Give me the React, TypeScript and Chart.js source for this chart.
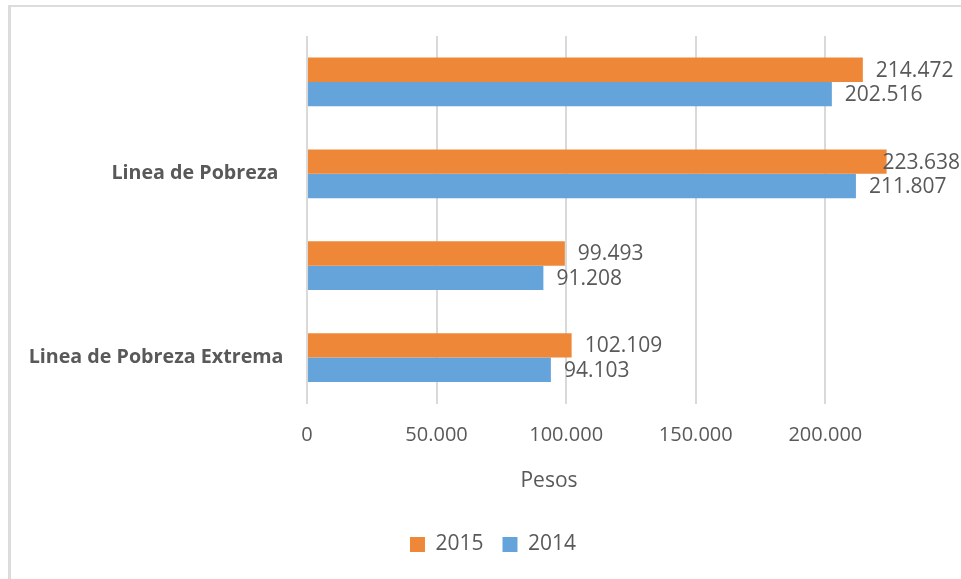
import React, { useEffect, useRef } from "react";
import { Chart, registerables } from "chart.js";

Chart.register(...registerables);

const categories = ["", "Linea de Pobreza ", "", "Linea de Pobreza Extrema"];
const series2015 = [214472, 223638, 99493, 102109];
const series2014 = [202516, 211807, 91208, 94103];
const seriesNames = ["2015", "2014"];
const xTickValues = [0, 50000, 100000, 150000, 200000];
const xAxisMax = 240000;
const xAxisTitle = "Pesos";

const ORANGE = "#EE8838";
const BLUE = "#64A4DA";
const TEXT = "#595959";
const GRID = "#d9d9d9";
const FONT = "'Open Sans', sans-serif";

const fmt = (v: number) => String(Math.round(v)).replace(/\B(?=(\d{3})+(?!\d))/g, ".");

const dataLabelPlugin = {
  id: "dataLabels",
  afterDatasetsDraw(chart: any) {
    const ctx = chart.ctx;
    ctx.save();
    ctx.font = `21px ${FONT}`;
    ctx.fillStyle = TEXT;
    ctx.textBaseline = "middle";
    ctx.textAlign = "left";
    chart.data.datasets.forEach((ds: any, i: number) => {
      const meta = chart.getDatasetMeta(i);
      meta.data.forEach((el: any, j: number) => {
        const txt = fmt(ds.data[j]);
        const w = ctx.measureText(txt).width;
        const x = Math.min(el.x + 13, chart.width - w - 3);
        ctx.fillText(txt, x, el.y + 1);
      });
    });
    ctx.restore();
  },
};

const axisTitlePlugin = {
  id: "axisTitle",
  afterDraw(chart: any) {
    const ctx = chart.ctx;
    const a = chart.chartArea;
    ctx.save();
    ctx.font = `21px ${FONT}`;
    ctx.fillStyle = TEXT;
    ctx.textAlign = "center";
    ctx.textBaseline = "middle";
    ctx.fillText(xAxisTitle, a.left + 242, a.bottom + 78);
    ctx.restore();
  },
};

// shift the bottom legend a little to the right, as in the original
const legendShiftPlugin = {
  id: "legendShift",
  afterLayout(chart: any) {
    const lg = chart.legend;
    if (lg) {
      lg.left += 23;
      lg.right += 23;
    }
  },
};

export default function App() {
  const ref = useRef<HTMLCanvasElement | null>(null);
  useEffect(() => {
    if (!ref.current) return;
    const chart = new Chart(ref.current, {
      type: "bar",
      data: {
        labels: categories,
        datasets: [
          { label: seriesNames[0], data: series2015, backgroundColor: ORANGE, borderWidth: 0 },
          { label: seriesNames[1], data: series2014, backgroundColor: BLUE, borderWidth: 0 },
        ],
      },
      options: {
        indexAxis: "y",
        responsive: false,
        animation: false,
        layout: { padding: { left: 0, right: 34, top: 29, bottom: 42 } },
        datasets: { bar: { categoryPercentage: 0.53, barPercentage: 1 } },
        plugins: {
          legend: {
            position: "bottom",
            labels: {
              boxWidth: 15,
              boxHeight: 15,
              padding: 19,
              color: TEXT,
              font: { family: FONT, size: 21 },
            },
          },
          tooltip: { enabled: false },
          title: { display: false },
        },
        scales: {
          x: {
            min: 0,
            max: xAxisMax,
            afterBuildTicks: (scale: any) => {
              scale.ticks = xTickValues.map((v) => ({ value: v }));
            },
            afterFit: (scale: any) => {
              scale.height = 111.5;
              scale.paddingLeft = 0;
              scale.paddingRight = 0;
              scale.paddingTop = 0;
              scale.paddingBottom = 0;
            },
            grid: { color: GRID, lineWidth: 2, drawTicks: false },
            border: { display: false },
            ticks: {
              padding: 20,
              color: TEXT,
              font: { family: FONT, size: 20 },
              callback: (v: any) => fmt(Number(v)),
              maxRotation: 0,
            },
          },
          y: {
            afterFit: (scale: any) => {
              scale.width = 296;
              scale.paddingLeft = 0;
              scale.paddingRight = 0;
              scale.paddingTop = 0;
              scale.paddingBottom = 0;
            },
            grid: { display: false, drawTicks: false },
            border: { display: false },
            ticks: {
              padding: 23.5,
              color: TEXT,
              font: { family: FONT, size: 19.7, weight: "bold" },
              autoSkip: false,
            },
          },
        },
      },
      plugins: [dataLabelPlugin, axisTitlePlugin, legendShiftPlugin],
    } as any);
    return () => chart.destroy();
  }, []);

  return (
    <div
      style={{
        position: "fixed",
        left: 0,
        top: 0,
        width: 961,
        height: 579,
        overflow: "hidden",
        background: "#fff",
      }}
    >
      <div
        style={{
          position: "absolute",
          left: 8,
          top: 5,
          borderLeft: "3px solid #dcdcdc",
          borderTop: "2px solid #dcdcdc",
          width: 952,
          height: 600,
        }}
      >
        <canvas ref={ref} width={952} height={600} style={{ display: "block" }} />
      </div>
    </div>
  );
}
